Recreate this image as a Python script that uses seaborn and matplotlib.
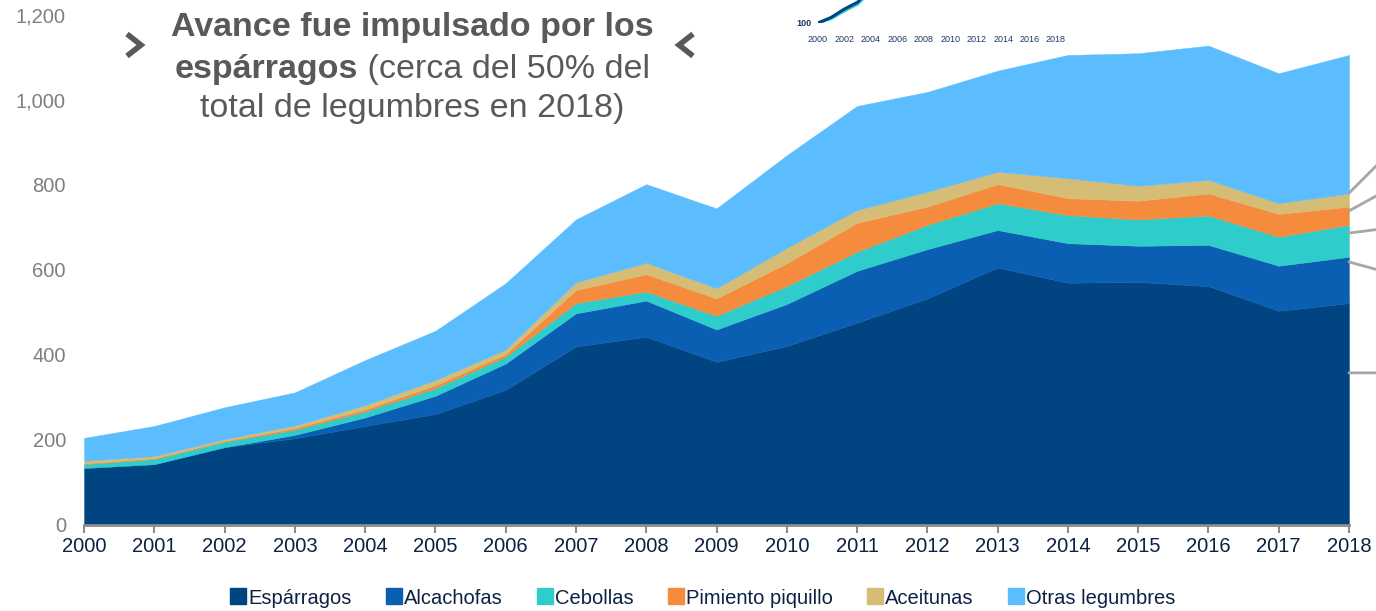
import numpy as np
import pandas as pd
import seaborn as sns
import matplotlib.pyplot as plt
from matplotlib.lines import Line2D
from matplotlib.ticker import FuncFormatter

# datos (miles de t aprox.)
anios = list(range(2000, 2019))
esparragos = [134, 143, 183, 204, 233, 261, 318, 420, 443, 384, 421, 476, 533, 606, 570, 572, 562, 504, 522]
alcachofas = [0, 0, 0, 8, 20, 43, 62, 78, 85, 76, 99, 122, 116, 88, 93, 85, 97, 106, 109]
cebollas = [9, 12, 13, 12, 14, 18, 16, 24, 21, 32, 42, 45, 57, 63, 66, 62, 69, 68, 75]
pimiento = [2, 2, 2, 4, 5, 7, 6, 31, 41, 41, 54, 68, 43, 45, 40, 44, 52, 54, 43]
aceitunas = [6, 5, 4, 6, 10, 12, 11, 18, 27, 24, 36, 30, 35, 29, 47, 35, 32, 25, 31]
otras = [54, 71, 75, 78, 106, 116, 156, 148, 185, 188, 218, 245, 235, 238, 290, 312, 316, 306, 326]

series = ["Espárragos", "Alcachofas", "Cebollas", "Pimiento piquillo", "Aceitunas", "Otras legumbres"]
colores = ["#004481", "#0b5fb3", "#2ecdcc", "#f58b3c", "#d6bd76", "#5bbdfe"]

# mini grafico de indice (recortado arriba)
inset_anios = list(range(2000, 2019))
indice_total = [100, 114, 135, 152, 189, 223, 278, 351, 391, 363, 424, 481, 497, 521, 540, 541, 550, 519, 540]
indice_2 = [100, 111, 130, 147, 180, 210, 262, 330, 365, 340, 395, 450, 470, 495, 510, 515, 520, 495, 510]

# lineas guia a la derecha (valor en 2018 y desplazamiento en px)
guias_y = [781, 739, 687, 619, 358]
guias_d = [(40, 40), (40, 22), (40, 5), (40, -11), (40, 0)]

sns.set_theme(style="white")
plt.rcParams['font.family'] = ['Liberation Sans', 'DejaVu Sans']

W, H = 1376, 611
fig = plt.figure(figsize=(W / 100, H / 100), dpi=100)


def fx(x):
    return x / W


def fy(y):
    return 1 - y / H


ax = fig.add_axes([fx(84), fy(525), fx(1349 - 84), (525 - 15) / H])
ax.stackplot(anios, esparragos, alcachofas, cebollas, pimiento, aceitunas, otras,
             colors=colores, edgecolor="face", linewidth=0.3)
ax.set_xlim(2000, 2018)
ax.set_ylim(0, 1200)
ax.set_xticks(anios)
ax.set_yticks(range(0, 1201, 200))
ax.yaxis.set_major_formatter(FuncFormatter(lambda v, p: f"{int(v):,}"))
for s in ["left", "top", "right"]:
    ax.spines[s].set_visible(False)
ax.spines["bottom"].set_color("#8c8c8c")
ax.spines["bottom"].set_linewidth(2)
ax.tick_params(axis="x", bottom=True, direction="out", length=6, width=1.5, color="#8c8c8c",
               labelsize=14.5, labelcolor="#0d2143", pad=3)
ax.tick_params(axis="y", left=False, labelsize=14.5, labelcolor="#7f7f7f", pad=7)
ax.grid(False)

for v, (dx, dy) in zip(guias_y, guias_d):
    ax.annotate("", xy=(2018, v), xytext=(dx, dy), textcoords="offset pixels",
                arrowprops=dict(arrowstyle="-", color="#a6a6a6", lw=2, shrinkA=0, shrinkB=0),
                annotation_clip=False)

# leyenda
handles = [Line2D([], [], marker="s", linestyle="", markersize=11, markerfacecolor=c, markeredgecolor=c)
           for c in colores]
fig.legend(handles, series, loc="center", bbox_to_anchor=(fx(703), fy(598)), ncol=6, frameon=False,
           fontsize=14.5, handlelength=0.7, handletextpad=0.15, columnspacing=1.75, labelcolor="#0d2143")

# titulo
gris = "#595959"
cx = 412
fs = 24.5
fig.text(fx(cx), fy(36), "Avance fue impulsado por los", ha="center", va="baseline",
         fontsize=fs, fontweight="bold", color=gris)
t_b = fig.text(0, fy(78), "espárragos", ha="left", va="baseline", fontsize=fs, fontweight="bold", color=gris)
t_r = fig.text(0, fy(78), " (cerca del 50% del", ha="left", va="baseline", fontsize=fs, color=gris)
r = fig.canvas.get_renderer()
w1 = t_b.get_window_extent(r).width
w2 = t_r.get_window_extent(r).width
x0 = cx - (w1 + w2) / 2
t_b.set_x(fx(x0))
t_r.set_x(fx(x0 + w1))
fig.text(fx(cx), fy(117), "total de legumbres en 2018)", ha="center", va="baseline",
         fontsize=fs, color=gris)

# chevrones
for xs in ([127, 141, 127], [693, 679, 693]):
    fig.add_artist(Line2D([fx(x) for x in xs], [fy(34), fy(45), fy(56)], color=gris, lw=4,
                          solid_joinstyle="miter", solid_capstyle="butt"))

# mini grafico
ax_in = fig.add_axes([fx(818), fy(23), fx(1056 - 818), 200 / H])
sns.lineplot(x=inset_anios, y=indice_2, ax=ax_in, color="#2ecdcc", lw=2)
sns.lineplot(x=inset_anios, y=indice_total, ax=ax_in, color="#004481", lw=2.2)
ax_in.set_xlim(2000, 2018)
ax_in.set_ylim(100, 600)
ax_in.set_xticks(range(2000, 2019, 2))
ax_in.set_yticks([])
ax_in.set_xlabel("")
ax_in.set_ylabel("")
for s in ax_in.spines.values():
    s.set_visible(False)
ax_in.patch.set_alpha(0)
ax_in.tick_params(axis="x", length=0, labelsize=6.5, labelcolor="#1f3864", pad=9)
ax_in.text(1999.5, 100, "100", ha="right", va="center", fontsize=6.5, fontweight="bold",
           color="#1f3864", clip_on=False)

fig.savefig("out.png", dpi=100)
